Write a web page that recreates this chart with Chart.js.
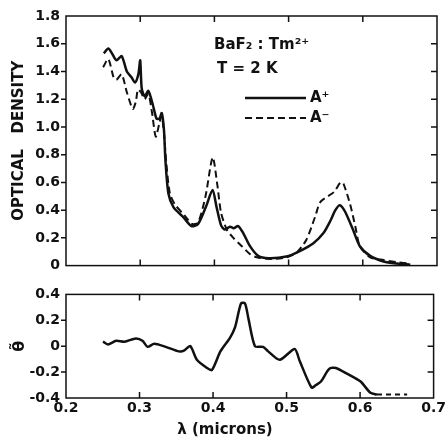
<!DOCTYPE html>
<html>
<head>
<meta charset="utf-8">
<script src="https://cdn.jsdelivr.net/npm/chart.js@4.4.1/dist/chart.umd.min.js"></script>
<style>
  html, body { margin: 0; padding: 0; background: #fff; }
  #wrap { position: relative; width: 448px; height: 440px; }
  #top { position: absolute; left: 0; top: 0; }
  #bot { position: absolute; left: 0; top: 280px; }
</style>
</head>
<body>
<div id="wrap">
  <canvas id="top" width="448" height="280" style="width:448px;height:280px"></canvas>
  <canvas id="bot" width="448" height="160" style="width:448px;height:160px"></canvas>
</div>
<script>
// wavelength (microns) and optical density
const lambdaPlus = [0.251, 0.257, 0.262, 0.268, 0.275, 0.282, 0.288, 0.293, 0.2975, 0.300, 0.302, 0.306, 0.311, 0.317, 0.322, 0.326, 0.329, 0.332, 0.334, 0.338, 0.345, 0.358, 0.369, 0.378, 0.389, 0.3975, 0.403, 0.409, 0.414, 0.421, 0.426, 0.432, 0.439, 0.448, 0.459, 0.473, 0.497, 0.515, 0.533, 0.547, 0.556, 0.563, 0.569, 0.576, 0.587, 0.596, 0.610, 0.628, 0.646, 0.664];
const odPlus     = [1.53, 1.565, 1.53, 1.48, 1.51, 1.40, 1.36, 1.32, 1.38, 1.48, 1.28, 1.22, 1.26, 1.16, 1.06, 1.06, 1.10, 0.98, 0.76, 0.52, 0.42, 0.35, 0.285, 0.30, 0.43, 0.545, 0.42, 0.29, 0.26, 0.28, 0.27, 0.285, 0.233, 0.14, 0.07, 0.053, 0.065, 0.105, 0.16, 0.235, 0.32, 0.40, 0.436, 0.39, 0.256, 0.14, 0.07, 0.03, 0.015, 0.007];

const lambdaMinus = [0.250, 0.257, 0.264, 0.268, 0.275, 0.282, 0.290, 0.294, 0.297, 0.301, 0.306, 0.311, 0.316, 0.321, 0.326, 0.329, 0.332, 0.335, 0.340, 0.347, 0.360, 0.370, 0.378, 0.388, 0.3977, 0.404, 0.409, 0.417, 0.4255, 0.437, 0.448, 0.457, 0.475, 0.497, 0.511, 0.524, 0.5356, 0.543, 0.561, 0.570, 0.574, 0.583, 0.590, 0.596, 0.610, 0.628, 0.646, 0.664];
const odMinus     = [1.43, 1.49, 1.36, 1.34, 1.38, 1.25, 1.13, 1.18, 1.27, 1.25, 1.20, 1.24, 1.10, 0.93, 1.03, 1.08, 0.96, 0.75, 0.52, 0.44, 0.36, 0.30, 0.31, 0.50, 0.78, 0.58, 0.38, 0.256, 0.20, 0.14, 0.083, 0.06, 0.048, 0.06, 0.095, 0.187, 0.35, 0.46, 0.53, 0.60, 0.59, 0.44, 0.28, 0.14, 0.06, 0.04, 0.025, 0.014];

// theta tilde (lower panel)
const lambdaTheta = [0.2503, 0.257, 0.2683, 0.2795, 0.295, 0.304, 0.311, 0.320, 0.3357, 0.3536, 0.3604, 0.369, 0.378, 0.3918, 0.3985, 0.410, 0.423, 0.430, 0.438, 0.4435, 0.448, 0.457, 0.468, 0.475, 0.4907, 0.511, 0.5176, 0.534, 0.540, 0.5468, 0.558, 0.567, 0.5827, 0.6007, 0.614, 0.623];
const theta       = [0.035, 0.014, 0.042, 0.035, 0.06, 0.042, -0.005, 0.019, -0.005, -0.04, -0.035, 0.002, -0.105, -0.168, -0.184, -0.04, 0.065, 0.147, 0.33, 0.33, 0.217, 0.0, -0.005, -0.04, -0.105, -0.021, -0.11, -0.32, -0.30, -0.273, -0.175, -0.168, -0.214, -0.273, -0.36, -0.373];
const lambdaTail  = [0.623, 0.664];
const thetaTail   = [-0.373, -0.373];

const xTicks = [0.2, 0.3, 0.4, 0.5, 0.6, 0.7];

const ink = '#111';
const tickFont = { family: 'DejaVu Sans', weight: 'bold', size: 14 };

const pts = (xs, ys) => xs.map((x, i) => ({ x: x, y: ys[i] }));

// box frame with inward ticks (outward on the left)
const frameTicks = {
  id: 'frameTicks',
  afterDraw(chart) {
    const { ctx, chartArea: a, scales } = chart;
    ctx.save();
    ctx.strokeStyle = ink;
    ctx.lineWidth = 1.5;
    ctx.strokeRect(a.left, a.top, a.right - a.left, a.bottom - a.top);
    ctx.beginPath();
    xTicks.forEach(v => {
      const px = scales.x.getPixelForValue(v);
      if (px <= a.left + 1 || px >= a.right - 1) return;
      ctx.moveTo(px, a.top); ctx.lineTo(px, a.top + 6);
      ctx.moveTo(px, a.bottom); ctx.lineTo(px, a.bottom - 6);
    });
    scales.y.ticks.forEach(t => {
      const py = scales.y.getPixelForValue(t.value);
      if (py <= a.top + 1 || py >= a.bottom - 1) return;
      ctx.moveTo(a.left, py); ctx.lineTo(a.left - 5, py);
      ctx.moveTo(a.right, py); ctx.lineTo(a.right - 6, py);
    });
    ctx.stroke();
    ctx.restore();
  }
};

const labels = {
  id: 'labels',
  afterDraw(chart, args, opts) {
    const ctx = chart.ctx;
    ctx.save();
    ctx.fillStyle = ink;
    ctx.strokeStyle = ink;
    ctx.font = 'bold 15px "DejaVu Sans"';
    ctx.textBaseline = 'middle';
    (opts.texts || []).forEach(t => {
      ctx.textAlign = t.align || 'left';
      ctx.fillText(t.text, t.x, t.y);
    });
    (opts.keys || []).forEach(k => {
      const ds = chart.data.datasets[k.index];
      ctx.lineWidth = ds.borderWidth;
      ctx.setLineDash(ds.borderDash || []);
      ctx.beginPath();
      ctx.moveTo(k.x0, k.y); ctx.lineTo(k.x1, k.y);
      ctx.stroke();
      ctx.setLineDash([]);
      ctx.textAlign = 'left';
      ctx.fillText(k.text, k.x1 + 4, k.y);
    });
    ctx.restore();
  }
};

const fmt = v => {
  const r = Math.round(v * 10) / 10;
  return r === 0 ? '0' : r.toFixed(1);
};

const yFit = s => { s.width = 66; };
const noGrid = { display: false, drawTicks: false };

new Chart(document.getElementById('top'), {
  type: 'line',
  data: {
    datasets: [
      { label: 'A+', data: pts(lambdaPlus, odPlus), borderColor: ink, borderWidth: 2.5, tension: 0.25 },
      { label: 'A-', data: pts(lambdaMinus, odMinus), borderColor: ink, borderWidth: 2, borderDash: [7, 4], tension: 0.25 }
    ]
  },
  options: {
    responsive: false,
    animation: false,
    layout: { padding: { top: 16, bottom: 3, right: 11, left: 0 } },
    elements: { point: { radius: 0 } },
    scales: {
      x: { type: 'linear', min: 0.2, max: 0.7, display: false },
      y: {
        min: 0, max: 1.8,
        afterFit: yFit,
        grid: noGrid,
        border: { display: false },
        ticks: { stepSize: 0.2, color: ink, font: tickFont, padding: 6, callback: fmt },
        title: { display: true, text: 'OPTICAL   DENSITY', color: ink, font: { family: 'DejaVu Sans', weight: 'bold', size: 15 }, padding: { top: 10, bottom: 0 } }
      }
    },
    plugins: {
      legend: { display: false },
      tooltip: { enabled: false },
      labels: {
        texts: [
          { text: 'BaF\u2082 : Tm\u00B2\u207A', x: 214, y: 45 },
          { text: 'T = 2 K', x: 217, y: 69 }
        ],
        keys: [
          { index: 0, x0: 245, x1: 306, y: 98, text: 'A\u207A' },
          { index: 1, x0: 245, x1: 306, y: 118, text: 'A\u207B' }
        ]
      }
    }
  },
  plugins: [frameTicks, labels]
});

new Chart(document.getElementById('bot'), {
  type: 'line',
  data: {
    datasets: [
      { label: 'theta', data: pts(lambdaTheta, theta), borderColor: ink, borderWidth: 2.5, tension: 0.25 },
      { label: 'theta tail', data: pts(lambdaTail, thetaTail), borderColor: ink, borderWidth: 2, borderDash: [5, 4] }
    ]
  },
  options: {
    responsive: false,
    animation: false,
    layout: { padding: { top: 4, bottom: 0, right: 11, left: 0 } },
    elements: { point: { radius: 0 } },
    scales: {
      x: {
        type: 'linear', min: 0.2, max: 0.7,
        afterFit: s => { s.height = 42; },
        grid: noGrid,
        border: { display: false },
        afterBuildTicks: s => { s.ticks = xTicks.map(v => ({ value: v })); },
        ticks: { color: ink, font: tickFont, padding: 2, maxRotation: 0, callback: v => v.toFixed(1) }
      },
      y: {
        min: -0.4, max: 0.4,
        afterFit: yFit,
        grid: noGrid,
        border: { display: false },
        ticks: { stepSize: 0.2, color: ink, font: tickFont, padding: 6, callback: fmt },
        title: { display: true, text: '\u03B8\u0303', color: ink, font: { family: 'DejaVu Sans', weight: 'bold', size: 16 }, padding: { top: 10, bottom: 0 } }
      }
    },
    plugins: {
      legend: { display: false },
      tooltip: { enabled: false },
      labels: {
        texts: [
          { text: '\u03BB (microns)', x: 225, y: 150, align: 'center' }
        ]
      }
    }
  },
  plugins: [frameTicks, labels]
});
</script>
</body>
</html>
